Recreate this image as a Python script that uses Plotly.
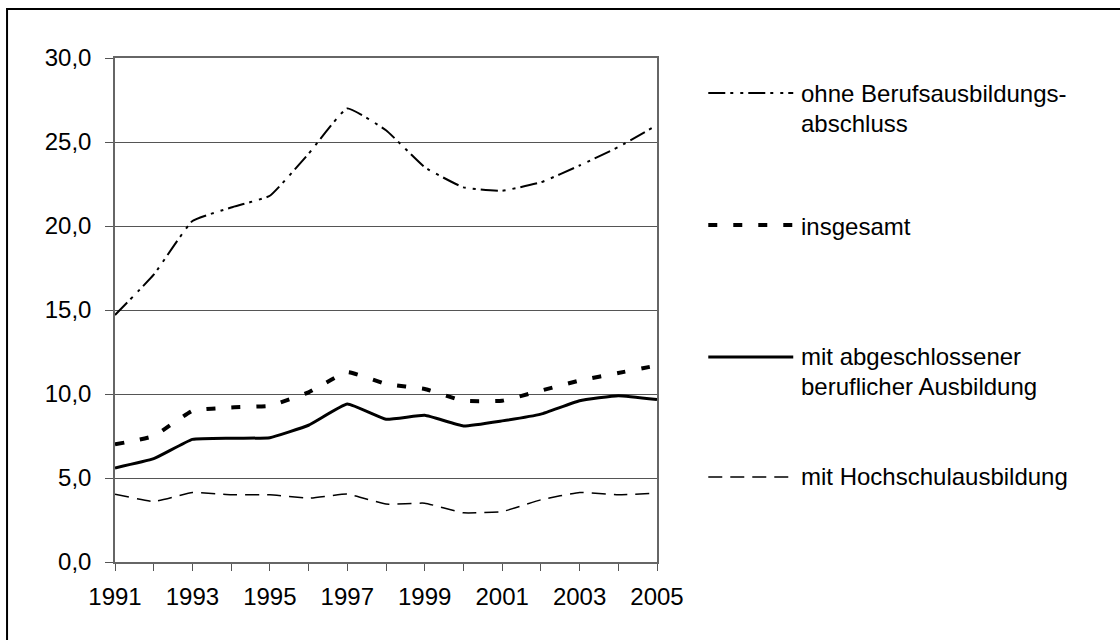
import plotly.graph_objects as go

# Arbeitslosenquoten nach Qualifikation, 1991-2005 (in %)
years = list(range(1991, 2006))
ohne_abschluss = [14.7, 17.1, 20.3, 21.1, 21.8, 24.3, 27.0, 25.7, 23.5, 22.3, 22.1, 22.6, 23.6, 24.7, 26.0]
insgesamt = [7.0, 7.5, 9.0, 9.2, 9.3, 10.1, 11.3, 10.6, 10.3, 9.6, 9.6, 10.2, 10.8, 11.25, 11.7]
berufliche_ausbildung = [5.6, 6.15, 7.3, 7.37, 7.4, 8.14, 9.4, 8.5, 8.73, 8.1, 8.4, 8.8, 9.6, 9.9, 9.67]
hochschule = [4.04, 3.6, 4.14, 4.0, 4.0, 3.8, 4.04, 3.45, 3.5, 2.93, 3.0, 3.7, 4.14, 4.0, 4.1]

y_ticks = [0, 5, 10, 15, 20, 25, 30]
x_tick_labels = [str(y) if y % 2 == 1 else "" for y in years]

series = [
    ("ohne Berufsausbildungs-<br>abschluss", ohne_abschluss, 2, "17px,5px,3px,7px,3px,5px"),
    ("insgesamt", insgesamt, 4, "9px,16px"),
    ("mit abgeschlossener<br>beruflicher Ausbildung", berufliche_ausbildung, 3, "solid"),
    ("mit Hochschulausbildung", hochschule, 1.5, "14px,8px"),
]

W, H = 1120, 640
L, R, T, B = 114.5, 656.7, 58, 562
FONT = "Liberation Sans, Arial, sans-serif"
FS = 24


def px_x(px):
    return (px - L) / (R - L)


def px_y(py):
    return (B - py) / (B - T)


fig = go.Figure()
for name, vals, width, dash in series:
    fig.add_trace(go.Scatter(
        x=years, y=vals, mode="lines", name=name,
        line=dict(color="black", width=width, dash=dash, shape="spline", smoothing=0.35),
        showlegend=False, hoverinfo="x+y",
    ))

# legend drawn beside the plot: sample line + label lines
legend_rows = [
    (93, ["ohne Berufsausbildungs-", "abschluss"], 94),
    (225, ["insgesamt"], 226),
    (357, ["mit abgeschlossener", "beruflicher Ausbildung"], 356),
    (477, ["mit Hochschulausbildung"], 477),
]
shapes = []
annotations = []
for (line_y, lines, text_y), (_, _, width, dash) in zip(legend_rows, series):
    shapes.append(dict(
        type="line", xref="paper", yref="paper",
        x0=px_x(708), x1=px_x(793), y0=px_y(line_y), y1=px_y(line_y),
        line=dict(color="black", width=width, dash=dash),
    ))
    for i, txt in enumerate(lines):
        annotations.append(dict(
            text=txt, xref="paper", yref="paper",
            x=px_x(799), y=px_y(text_y + 30 * i),
            xanchor="left", yanchor="middle", showarrow=False,
            font=dict(family=FONT, size=FS, color="black"),
        ))

# outer frame of the chart
shapes.append(dict(
    type="rect", xref="paper", yref="paper",
    x0=px_x(6.5), x1=px_x(1130), y0=px_y(9), y1=px_y(650),
    line=dict(color="black", width=2), fillcolor="rgba(0,0,0,0)", layer="below",
))

fig.update_layout(
    width=W, height=H,
    margin=dict(l=L, r=W - R, t=T, b=H - B, pad=0),
    paper_bgcolor="white", plot_bgcolor="white",
    separators=",.",
    font=dict(family=FONT, size=FS, color="black"),
    shapes=shapes, annotations=annotations,
)
fig.update_xaxes(
    range=[1991, 2005], tickvals=years, ticktext=x_tick_labels,
    ticks="outside", ticklen=7, tickcolor="#555", tickwidth=1,
    showgrid=False, zeroline=False,
    showline=True, linecolor="#666", linewidth=1.5, mirror=True,
    ticklabelstandoff=5,
    tickfont=dict(family=FONT, size=FS, color="black"),
)
fig.update_yaxes(
    range=[0, 30], tickvals=y_ticks, tickformat=".1f",
    ticks="outside", ticklen=8, tickcolor="#555", tickwidth=1,
    showgrid=True, gridcolor="#555", gridwidth=1, zeroline=False,
    showline=True, linecolor="#666", linewidth=1.5, mirror=True,
    ticklabelstandoff=9,
    tickfont=dict(family=FONT, size=FS, color="black"),
)

fig.write_html("out.html")
